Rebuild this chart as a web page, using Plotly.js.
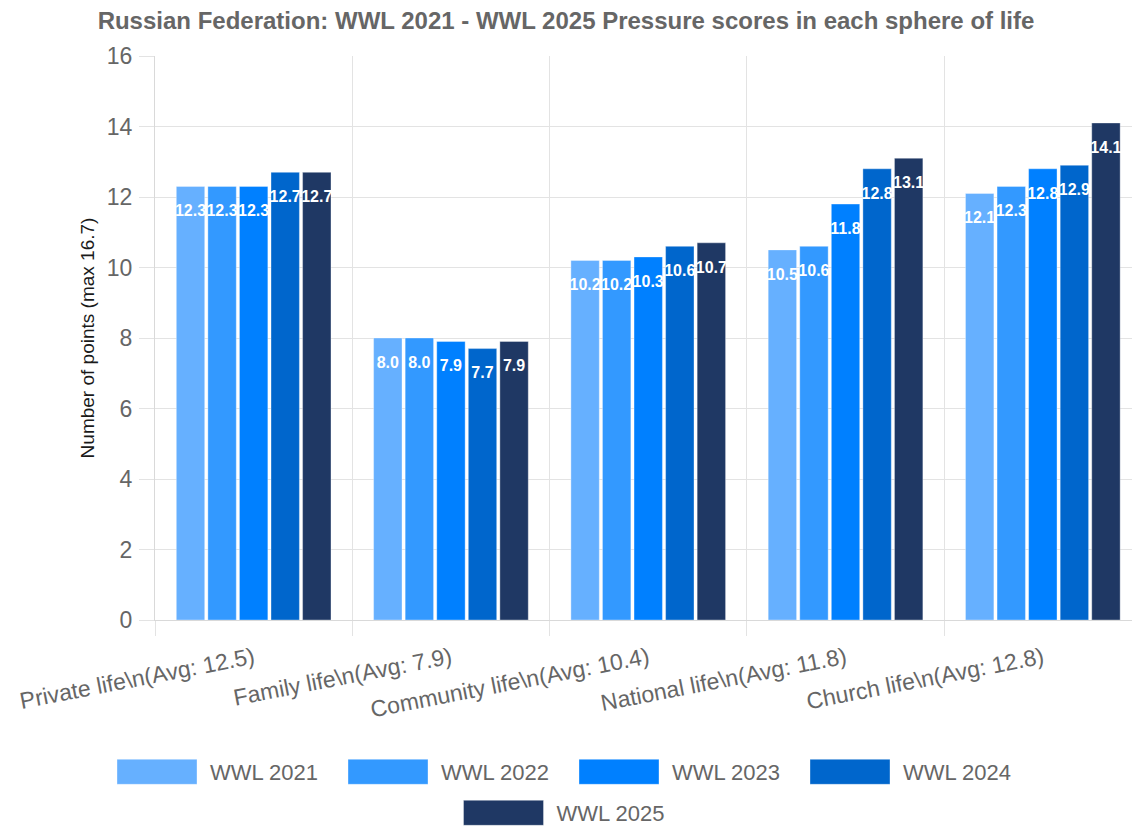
<!DOCTYPE html>
<html>
<head>
<meta charset="utf-8">
<script src="https://cdn.plot.ly/plotly-3.0.1.min.js"></script>
<style>
  html, body { margin: 0; padding: 0; background: #ffffff; }
  #chart { width: 1132px; height: 828px; }
</style>
</head>
<body>
<div id="chart"></div>
<script>
// ---- data ----
const categories = [
  'Private life\\n(Avg: 12.5)',
  'Family life\\n(Avg: 7.9)',
  'Community life\\n(Avg: 10.4)',
  'National life\\n(Avg: 11.8)',
  'Church life\\n(Avg: 12.8)'
];
const seriesNames = ['WWL 2021', 'WWL 2022', 'WWL 2023', 'WWL 2024', 'WWL 2025'];
const wwl2021 = [12.3, 8.0, 10.2, 10.5, 12.1];
const wwl2022 = [12.3, 8.0, 10.2, 10.6, 12.3];
const wwl2023 = [12.3, 7.9, 10.3, 11.8, 12.8];
const wwl2024 = [12.7, 7.7, 10.6, 12.8, 12.9];
const wwl2025 = [12.7, 7.9, 10.7, 13.1, 14.1];
const yTicks = [0, 2, 4, 6, 8, 10, 12, 14, 16];

// ---- styles ----
const seriesValues = [wwl2021, wwl2022, wwl2023, wwl2024, wwl2025];
const colors = ['#66b0ff', '#3399ff', '#0080ff', '#0066cc', '#1f3864'];
const legendIds = ['legend', 'legend', 'legend', 'legend', 'legend2'];
const FONT = 'Liberation Sans, Arial, Helvetica, sans-serif';

const traces = seriesValues.map((vals, i) => ({
  type: 'bar',
  name: seriesNames[i],
  x: categories,
  y: vals,
  legend: legendIds[i],
  marker: { color: colors[i], line: { color: 'rgba(255,255,255,0.35)', width: 1 } },
  texttemplate: '<span style="font-size:7px">\u00a0</span><br>%{y:.1f}',
  textposition: 'inside',
  insidetextanchor: 'end',
  textangle: 0,
  constraintext: 'none',
  cliponaxis: false,
  textfont: { family: FONT, size: 16, color: '#ffffff', weight: 'bold' },
  hoverinfo: 'x+y+name'
}));

const legendCommon = {
  orientation: 'h',
  xref: 'container', yref: 'container',
  x: 0.5, xanchor: 'center',
  yanchor: 'middle',
  font: { family: FONT, size: 22, color: '#666666' },
  itemwidth: 96,
  entrywidth: 120,
  entrywidthmode: 'pixels',
  bgcolor: 'rgba(0,0,0,0)',
  traceorder: 'normal'
};

const layout = {
  width: 1132,
  height: 828,
  paper_bgcolor: '#ffffff',
  plot_bgcolor: '#ffffff',
  margin: { l: 155, r: 0, t: 56, b: 208 },
  font: { family: FONT, color: '#666666' },
  title: {
    text: '<b>Russian Federation: WWL 2021 - WWL 2025 Pressure scores in each sphere of life</b>',
    font: { family: FONT, size: 24, color: '#666666' },
    x: 0.5, xref: 'container', xanchor: 'center',
    y: 1 - 21 / 828, yref: 'container', yanchor: 'middle'
  },
  barmode: 'group',
  bargap: 0.2,
  bargroupgap: 0.1,
  xaxis: {
    type: 'category',
    range: [-0.5, 4.452],
    tickson: 'boundaries',
    ticks: 'outside',
    ticklen: 15,
    tickcolor: '#e3e3e3',
    tickangle: -11,
    tickfont: { family: FONT, size: 23, color: '#666666' },
    ticklabelstandoff: 15,
    showgrid: true,
    gridcolor: '#e3e3e3',
    gridwidth: 1,
    showline: true,
    linecolor: '#d9d9d9',
    linewidth: 1,
    automargin: false,
    fixedrange: true
  },
  yaxis: {
    range: [0, 16],
    tickvals: yTicks,
    ticks: 'outside',
    ticklen: 15,
    tickcolor: '#e3e3e3',
    tickfont: { family: FONT, size: 23, color: '#666666' },
    ticklabelstandoff: 2,
    showgrid: true,
    gridcolor: '#e3e3e3',
    gridwidth: 1,
    zeroline: true,
    zerolinecolor: '#d9d9d9',
    zerolinewidth: 1,
    showline: true,
    linecolor: '#d9d9d9',
    linewidth: 1,
    automargin: false,
    fixedrange: true,
    title: {
      text: 'Number of points (max 16.7)',
      font: { family: FONT, size: 19, color: '#1a1a1a' },
      standoff: 7
    }
  },
  showlegend: true,
  legend: Object.assign({}, legendCommon, { y: 1 - 772 / 828 }),
  legend2: Object.assign({}, legendCommon, { y: 1 - 813 / 828 })
};

Plotly.newPlot('chart', traces, layout, { displayModeBar: false, staticPlot: true }).then(() => {
  // enlarge legend swatches to match the wide boxes of the reference
  document.querySelectorAll('g.legendpoints path').forEach(p => {
    p.setAttribute('d', 'M40,12.5H-40V-12.5H40Z');
  });
});
</script>
</body>
</html>
